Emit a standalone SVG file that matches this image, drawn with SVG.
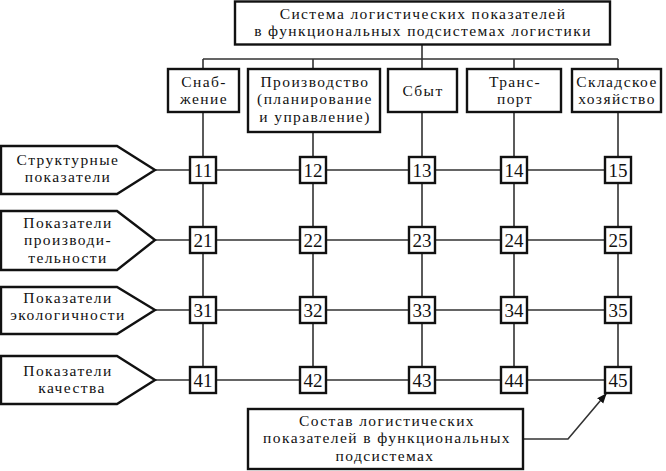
<svg xmlns="http://www.w3.org/2000/svg" width="666" height="471" viewBox="0 0 666 471">
<defs>
<style>
text{font-family:"Liberation Serif","DejaVu Serif",serif;fill:#111;text-anchor:middle}
.t{font-size:15.5px;letter-spacing:1.4px}
.n{font-size:19px}
.box{fill:#fff;stroke:#111;stroke-width:2.4}
.ln{fill:none;stroke:#333;stroke-width:1.6}
</style>
<marker id="ah" viewBox="0 0 10 10" refX="9" refY="5" markerWidth="10" markerHeight="10" markerUnits="userSpaceOnUse" orient="auto">
<path d="M0,1 L10,5 L0,9 Z" fill="#111"/>
</marker>
</defs>
<rect width="666" height="471" fill="#fff"/>
<g id="connectors">
<path class="ln" d="M422,44 V59 M203,59 H618 M203,59 V380 M313,59 V380 M422,59 V380 M514,59 V380 M618,59 V380"/>
<path class="ln" d="M155,170 H618 M155,240 H618 M155,310 H618 M155,380 H618"/>
<path class="ln" d="M523,439 H568 L606,394" stroke="#111" marker-end="url(#ah)"/>
</g>
<g id="top">
<rect class="box" x="235" y="1.5" width="375" height="43"/>
<text class="t" x="423" y="18.5">Система логистических показателей</text>
<text class="t" x="423" y="36">в функциональных подсистемах логистики</text>
</g>
<g id="h1"><rect class="box" x="168" y="69" width="71" height="43"/><text class="t" x="204" y="86.5">Снаб-</text><text class="t" x="204" y="104">жение</text></g>
<g id="h2"><rect class="box" x="248" y="69" width="132" height="63"/><text class="t" x="315" y="86.5">Производство</text><text class="t" x="315" y="104">(планирование</text><text class="t" x="315" y="121.5">и управление)</text></g>
<g id="h3"><rect class="box" x="388" y="69" width="69" height="43"/><text class="t" x="423" y="96">Сбыт</text></g>
<g id="h4"><rect class="box" x="467" y="69" width="94" height="43"/><text class="t" x="515" y="86.5">Транс-</text><text class="t" x="515" y="104">порт</text></g>
<g id="h5"><rect class="box" x="572" y="69" width="89" height="43"/><text class="t" x="617" y="86.5">Складское</text><text class="t" x="617" y="104">хозяйство</text></g>
<g id="r1"><path class="box" d="M1,146 H117 L155,170 L117,194 H1 Z"/><text class="t" x="68" y="164.5">Структурные</text><text class="t" x="68" y="182">показатели</text></g>
<g id="r2"><path class="box" d="M1,211 H117 L155,240 L117,270 H1 Z"/><text class="t" x="68" y="227.5">Показатели</text><text class="t" x="68" y="245">производи-</text><text class="t" x="68" y="262.5">тельности</text></g>
<g id="r3"><path class="box" d="M1,287 H117 L155,310 L117,334 H1 Z"/><text class="t" x="68" y="302.5">Показатели</text><text class="t" x="68" y="320">экологичности</text></g>
<g id="r4"><path class="box" d="M1,356 H117 L155,380 L117,404 H1 Z"/><text class="t" x="68" y="375.5">Показатели</text><text class="t" x="72" y="393">качества</text></g>
<g id="n11"><rect class="box" x="190" y="157" width="26" height="26"/><text class="n" x="203" y="177">11</text></g>
<g id="n12"><rect class="box" x="300" y="157" width="26" height="26"/><text class="n" x="313" y="177">12</text></g>
<g id="n13"><rect class="box" x="409" y="157" width="26" height="26"/><text class="n" x="422" y="177">13</text></g>
<g id="n14"><rect class="box" x="501" y="157" width="26" height="26"/><text class="n" x="514" y="177">14</text></g>
<g id="n15"><rect class="box" x="605" y="157" width="26" height="26"/><text class="n" x="618" y="177">15</text></g>
<g id="n21"><rect class="box" x="190" y="227" width="26" height="26"/><text class="n" x="203" y="247">21</text></g>
<g id="n22"><rect class="box" x="300" y="227" width="26" height="26"/><text class="n" x="313" y="247">22</text></g>
<g id="n23"><rect class="box" x="409" y="227" width="26" height="26"/><text class="n" x="422" y="247">23</text></g>
<g id="n24"><rect class="box" x="501" y="227" width="26" height="26"/><text class="n" x="514" y="247">24</text></g>
<g id="n25"><rect class="box" x="605" y="227" width="26" height="26"/><text class="n" x="618" y="247">25</text></g>
<g id="n31"><rect class="box" x="190" y="297" width="26" height="26"/><text class="n" x="203" y="317">31</text></g>
<g id="n32"><rect class="box" x="300" y="297" width="26" height="26"/><text class="n" x="313" y="317">32</text></g>
<g id="n33"><rect class="box" x="409" y="297" width="26" height="26"/><text class="n" x="422" y="317">33</text></g>
<g id="n34"><rect class="box" x="501" y="297" width="26" height="26"/><text class="n" x="514" y="317">34</text></g>
<g id="n35"><rect class="box" x="605" y="297" width="26" height="26"/><text class="n" x="618" y="317">35</text></g>
<g id="n41"><rect class="box" x="190" y="367" width="26" height="26"/><text class="n" x="203" y="387">41</text></g>
<g id="n42"><rect class="box" x="300" y="367" width="26" height="26"/><text class="n" x="313" y="387">42</text></g>
<g id="n43"><rect class="box" x="409" y="367" width="26" height="26"/><text class="n" x="422" y="387">43</text></g>
<g id="n44"><rect class="box" x="501" y="367" width="26" height="26"/><text class="n" x="514" y="387">44</text></g>
<g id="n45"><rect class="box" x="605" y="367" width="26" height="26"/><text class="n" x="618" y="387">45</text></g>
<g id="note"><rect class="box" x="248" y="409" width="275" height="60"/><text class="t" x="387" y="425.5">Состав логистических</text><text class="t" x="387" y="443">показателей в функциональных</text><text class="t" x="385" y="460.5">подсистемах</text></g>
</svg>
